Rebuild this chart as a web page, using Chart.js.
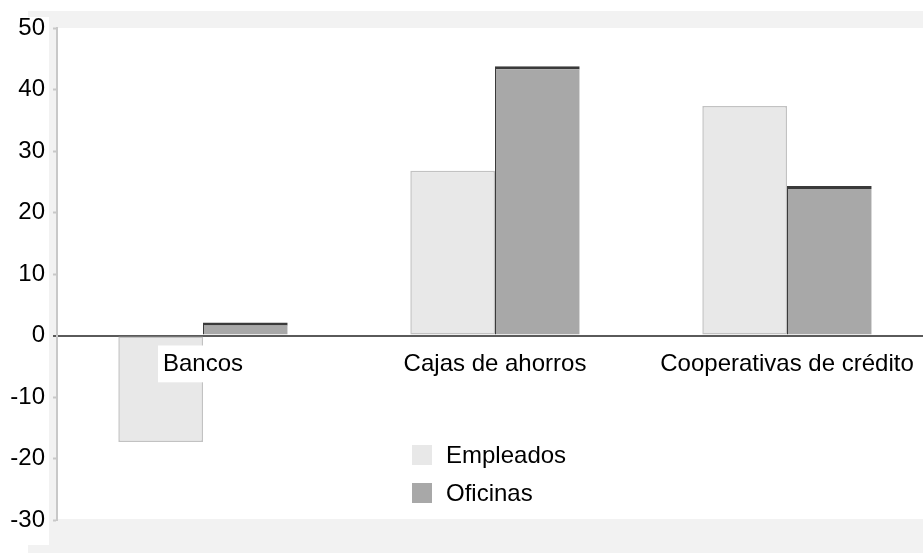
<!DOCTYPE html>
<html>
<head>
<meta charset="utf-8">
<script src="https://cdn.jsdelivr.net/npm/chart.js@4/dist/chart.umd.min.js"></script>
<style>
  html, body { margin: 0; padding: 0; background: #fff; overflow: hidden; }
  #wrap { width: 923px; height: 553px; overflow: hidden; position: relative; }
  canvas { display: block; }
</style>
</head>
<body>
<div id="wrap"><canvas id="c" width="933" height="553"></canvas></div>
<script>
const categories = ["Bancos", "Cajas de ahorros", "Cooperativas de crédito"];
const empleados = [-17.3, 26.8, 37.3];
const oficinas = [2.1, 43.8, 24.3];
const seriesNames = ["Empleados", "Oficinas"];
const yTicks = { min: -30, max: 50, step: 10 };

const FONT = "'Liberation Sans', Arial, Helvetica, sans-serif";
const FSIZE = 24;

const backgroundPlugin = {
  id: 'bgPanels',
  beforeDraw(chart) {
    const { ctx, chartArea, width, height } = chart;
    ctx.save();
    ctx.fillStyle = '#ffffff';
    ctx.fillRect(0, 0, width, height);
    ctx.fillStyle = '#f2f2f2';
    ctx.fillRect(28, chartArea.top - 17, width - 28, height - (chartArea.top - 17));
    ctx.fillStyle = '#ffffff';
    ctx.fillRect(0, chartArea.top - 11, chartArea.left - 8, (chartArea.bottom + 25) - (chartArea.top - 11));
    ctx.fillRect(chartArea.left, chartArea.top, chartArea.right - chartArea.left, chartArea.bottom - chartArea.top - 1);
    ctx.restore();
  }
};

const legendPlugin = {
  id: 'innerLegend',
  afterDraw(chart) {
    const { ctx, chartArea } = chart;
    const x0 = chartArea.left + 355;
    const y0 = chartArea.bottom - 75;
    ctx.save();
    ctx.font = FSIZE + "px " + FONT;
    ctx.textBaseline = 'alphabetic';
    ctx.textAlign = 'left';
    chart.data.datasets.forEach((ds, i) => {
      const y = y0 + i * 38;
      ctx.fillStyle = ds.backgroundColor;
      ctx.fillRect(x0, y, 20, 20);
      ctx.fillStyle = '#000';
      ctx.fillText(ds.label, x0 + 34, y + 18);
    });
    ctx.restore();
  }
};

new Chart(document.getElementById('c'), {
  type: 'bar',
  data: {
    labels: categories,
    datasets: [
      {
        label: seriesNames[0],
        data: empleados,
        backgroundColor: '#e8e8e8',
        borderColor: '#c2c2c2',
        borderWidth: 1.5,
        borderSkipped: false
      },
      {
        label: seriesNames[1],
        data: oficinas,
        backgroundColor: '#a8a8a8',
        borderColor: '#3a3a3a',
        borderWidth: { top: 3, left: 1, right: 0, bottom: 0 },
        borderSkipped: false
      }
    ]
  },
  options: {
    responsive: false,
    animation: false,
    devicePixelRatio: 1,
    layout: { padding: { top: 28, bottom: 33, left: 0, right: 0 } },
    categoryPercentage: 0.58,
    barPercentage: 1.0,
    plugins: {
      legend: { display: false },
      tooltip: { enabled: false }
    },
    scales: {
      x: {
        position: { y: 0 },
        grid: { display: false },
        border: { display: false },
        ticks: {
          z: 1,
          color: '#000',
          font: { family: FONT, size: FSIZE },
          padding: 6,
          maxRotation: 0,
          autoSkip: false,
          showLabelBackdrop: true,
          backdropColor: '#ffffff',
          backdropPadding: { x: 5, y: 4 }
        }
      },
      y: {
        min: yTicks.min,
        max: yTicks.max,
        afterFit(scale) { scale.width = 57; },
        ticks: {
          stepSize: yTicks.step,
          color: '#000',
          font: { family: FONT, size: FSIZE },
          padding: 8
        },
        grid: {
          drawOnChartArea: true,
          tickLength: 4,
          color: (c) => (c.tick && c.tick.value === 0) ? '#5a5a5a' : 'rgba(0,0,0,0)',
          lineWidth: (c) => (c.tick && c.tick.value === 0) ? 2 : 1,
          tickColor: (c) => (c.tick && c.tick.value === 0) ? '#5a5a5a' : '#c8c8c8',
          tickWidth: 2
        },
        border: { display: true, color: '#c8c8c8', width: 2 }
      }
    }
  },
  plugins: [backgroundPlugin, legendPlugin]
});
</script>
</body>
</html>
